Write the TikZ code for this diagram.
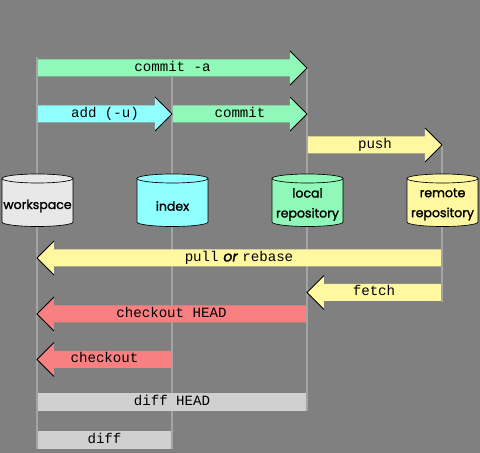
\documentclass[tikz,border=0pt]{standalone}
\usepackage{fontspec}
\setmonofont{Liberation Mono}
\newfontfamily\repofont{Poppins}[FakeBold=1.6]
\usetikzlibrary{positioning}

\definecolor{bggray}{RGB}{128,128,128}
\definecolor{lanegray}{RGB}{164,164,164}
\definecolor{wsgray}{RGB}{232,232,232}
\definecolor{idxcyan}{RGB}{144,255,255}
\definecolor{locgreen}{RGB}{144,248,184}
\definecolor{remyellow}{RGB}{255,248,160}
\definecolor{chkred}{RGB}{248,128,128}
\definecolor{diffgray}{RGB}{208,208,208}

\tikzset{
  lane/.style={lanegray, line width=1.5pt},
  headedge/.style={black, line width=0.6pt, line join=miter},
  cmd/.style={font=\ttfamily\fontsize{10.6}{12}\selectfont, inner sep=0pt, text height=1.5ex, text depth=0.3ex},
  repoline/.style={black, line width=0.5pt},
  repolabel/.style={font=\repofont\fontsize{9.4}{15}\selectfont, align=center, inner sep=0pt}
}

% arrow: tail x, tip x, centre y, fill, name, label
\newcommand{\gitarrow}[6]{%
  \pgfmathsetmacro\hb{#2-17*sign(#2-#1)}%
  \fill[#4] (#1,#3-8.5) -- (\hb,#3-8.5) -- (\hb,#3-17) -- (#2,#3)
    -- (\hb,#3+17) -- (\hb,#3+8.5) -- (#1,#3+8.5) -- cycle;
  \draw[headedge] (\hb,#3-17) -- (#2,#3) -- (\hb,#3+17);
  \node[cmd] (#5) at ({(#1+#2)/2},#3) {#6};}

% repository cylinder: centre x, fill, name, label, label y
\newcommand{\repo}[5]{%
  \filldraw[repoline, fill=#2] (#1-35.5,178.5) -- (#1-35.5,222)
    arc[start angle=180, end angle=0, x radius=35.5, y radius=4.5]
    -- (#1+35.5,178.5)
    arc[start angle=0, end angle=-180, x radius=35.5, y radius=4.5] -- cycle;
  \draw[repoline] (#1-35.5,178.5)
    arc[start angle=180, end angle=0, x radius=35.5, y radius=4.5];
  \node[repolabel] (#3) at (#1,#5) {#4};}

\begin{document}
\begin{tikzpicture}[x=0.75pt, y=-0.75pt]
  \fill[bggray] (0,0) rectangle (480,453);
  \useasboundingbox (0,0) rectangle (480,453);

  %% lanes
  \coordinate (wstop) at (37.5,57);   \coordinate (wsbot) at (37.5,449);
  \coordinate (idxtop) at (172.5,77); \coordinate (idxbot) at (172.5,449);
  \coordinate (loctop) at (307,68);   \coordinate (locbot) at (307,411);
  \coordinate (remtop) at (442,145);  \coordinate (rembot) at (442,302);
  \draw[lane] (wstop) -- (wsbot);
  \draw[lane] (idxtop) -- (idxbot);
  \draw[lane] (loctop) -- (locbot);
  \draw[lane] (remtop) -- (rembot);

  %% repositories
  \repo{37.5}{wsgray}{ws}{workspace}{206}
  \repo{172.5}{idxcyan}{idx}{index}{206}
  \repo{307.5}{locgreen}{loc}{local\\repository}{204.5}
  \repo{442.5}{remyellow}{rem}{remote\\repository}{204.5}

  %% commands
  \gitarrow{38}{307}{68}{locgreen}{commita}{commit -a}
  \gitarrow{38}{172}{114}{idxcyan}{add}{add (-u)}
  \gitarrow{173}{307}{114}{locgreen}{commit}{commit}
  \gitarrow{308}{442}{145}{remyellow}{push}{push}
  \gitarrow{441}{37}{258}{remyellow}{pull}{pull\hspace{3.5pt}{\repofont\itshape or}\hspace{3.5pt}rebase}
  \gitarrow{441}{307}{292.5}{remyellow}{fetch}{fetch}
  \gitarrow{306}{37}{314}{chkred}{chkhead}{checkout HEAD}
  \gitarrow{172}{37}{359.5}{chkred}{chk}{checkout}

  %% diffs
  \fill[diffgray] (38,393) rectangle (306,411);
  \node[cmd] (diffhead) at (172,402) {diff HEAD};
  \fill[diffgray] (38,431) rectangle (171.5,449);
  \node[cmd] (diff) at (104.5,440) {diff};
\end{tikzpicture}
\end{document}
